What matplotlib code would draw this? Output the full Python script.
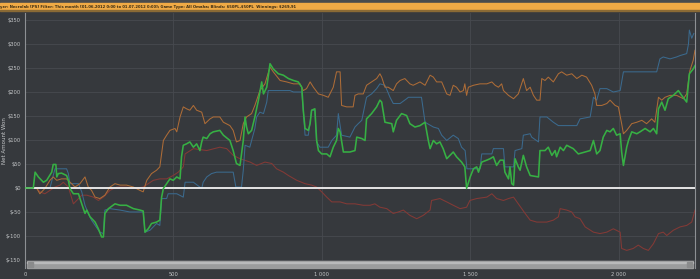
import matplotlib
matplotlib.use("Agg")
import matplotlib.pyplot as plt
from matplotlib.patches import Rectangle
from matplotlib.ticker import FuncFormatter

# valores (manos, dolares)
green_hands = [0, 28, 34, 45, 62, 73, 90, 95, 104, 107, 112, 123, 140, 146, 151, 163, 180, 191, 202, 208,
               219, 236, 247, 258, 264, 269, 281, 303, 320, 342, 365, 387, 398, 404, 415, 426, 443, 454,
               460, 466, 477, 488, 499, 511, 522, 527, 533, 544, 555, 567, 578, 589, 595, 600, 612, 623,
               634, 656, 668, 690, 701, 712, 724, 735, 741, 746, 752, 763, 774, 786, 797, 803, 814, 825,
               836, 853, 870, 887, 904, 920, 932, 937, 943, 954, 960, 965, 976, 982, 988, 999, 1016, 1027,
               1038, 1049, 1055, 1061, 1072, 1094, 1111, 1117, 1134, 1145, 1150, 1167, 1184, 1195, 1201,
               1212, 1235, 1240, 1251, 1268, 1285, 1296, 1313, 1330, 1347, 1358, 1364, 1375, 1386, 1397,
               1408, 1420, 1431, 1442, 1453, 1470, 1481, 1487, 1499, 1510, 1521, 1527, 1538, 1555, 1566,
               1577, 1588, 1600, 1611, 1616, 1628, 1633, 1639, 1645, 1650, 1661, 1667, 1678, 1689, 1701,
               1729, 1734, 1751, 1762, 1774, 1785, 1790, 1802, 1813, 1824, 1846, 1863, 1886, 1903, 1914,
               1925, 1936, 1947, 1959, 1970, 1981, 1992, 2004, 2009, 2015, 2026, 2032, 2043, 2060, 2071,
               2088, 2105, 2116, 2127, 2133, 2144, 2155, 2166, 2183, 2200, 2211, 2228, 2237, 2250, 2256]
green_won = [0, 0, 33, 23, 12, 16, 33, 49, 49, 23, 30, 31, 26, 16, -1, -12, -12, -33, -53, -46,
             -60, -71, -85, -102, -102, -53, -43, -33, -36, -36, -43, -46, -48, -92, -85, -74, -71, -67,
             -19, -1, 9, 19, 16, 23, 19, 65, 89, 92, 96, 85, 92, 78, 96, 106, 103, 113,
             117, 120, 110, 99, 78, 51, 47, 99, 148, 127, 113, 120, 148, 183, 221, 196, 210, 259,
             248, 238, 235, 228, 224, 221, 210, 162, 124, 120, 134, 162, 165, 99, 78, 71, 71, 65,
             85, 99, 124, 117, 75, 75, 78, 106, 103, 99, 144, 155, 169, 183, 179,
             137, 134, 117, 141, 155, 151, 134, 127, 130, 137, 99, 82, 99, 92, 96,
             82, 61, 68, 75, 65, 54, 44, -1, 23, 40, 44, 33, 54, 58, 61,
             65, 47, 58, 58, 33, 19, 44, 9, 6, 61, 44, 37, 68, 44, 26,
             23, 78, 78, 85, 68, 78, 65, 85, 78, 89, 82, 71, 75, 78, 99,
             71, 78, 106, 120, 117, 124, 110, 113, 75, 47, 85, 99, 117, 113, 117,
             124, 117, 124, 113, 165, 179, 162, 186, 193, 203, 193, 179, 238, 248, 255]

orange_hands = [0, 39, 50, 67, 84, 95, 107, 123, 140, 157, 168, 185, 202, 213, 224, 236, 252, 269, 286,
                303, 320, 342, 365, 387, 398, 410, 426, 443, 454, 466, 477, 488, 505, 511, 522, 533, 544,
                555, 567, 578, 595, 606, 623, 634, 656, 668, 690, 701, 712, 724, 735, 746, 763, 774, 791,
                808, 825, 836, 859, 881, 904, 926, 937, 948, 960, 971, 988, 1005, 1021, 1038, 1049, 1061,
                1066, 1083, 1105, 1111, 1122, 1139, 1150, 1167, 1184, 1195, 1201, 1212, 1223, 1240, 1251,
                1263, 1279, 1296, 1307, 1330, 1347, 1364, 1375, 1386, 1403, 1420, 1431, 1442, 1453, 1465,
                1476, 1481, 1487, 1493, 1510, 1532, 1555, 1572, 1583, 1594, 1605, 1611, 1628, 1645, 1661,
                1678, 1689, 1701, 1712, 1723, 1734, 1740, 1751, 1762, 1779, 1796, 1807, 1824, 1841, 1858,
                1875, 1891, 1908, 1919, 1925, 1942, 1959, 1970, 1987, 1998, 2009, 2015, 2026, 2043, 2060,
                2077, 2093, 2110, 2121, 2133, 2144, 2155, 2172, 2194, 2217, 2228, 2239, 2250, 2256]
orange_won = [0, 0, -12, -1, 16, 23, 16, 19, 19, 9, 2, 9, 23, 2, -5, -19, -22, -15, 2,
              9, 6, 6, 2, -5, -8, 16, 30, 37, 44, 99, 110, 120, 124, 117, 148, 169, 165,
              162, 172, 162, 158, 134, 144, 148, 148, 137, 130, 120, 96, 99, 134, 148, 155, 172, 203,
              217, 252, 242, 224, 221, 217, 217, 203, 207, 221, 210, 196, 193, 189, 210, 242, 242,
              172, 169, 169, 193, 196, 196, 214, 221, 228, 238, 231, 210, 210, 203, 217,
              224, 228, 217, 214, 221, 214, 235, 231, 221, 221, 196, 193, 214, 210, 200,
              203, 217, 193, 210, 214, 217, 217, 221, 214, 210, 217, 203, 193, 186, 196,
              228, 203, 210, 193, 183, 183, 228, 224, 231, 221, 238, 242, 235, 238, 228,
              235, 231, 214, 196, 172, 172, 176, 183, 172, 169, 134, 113, 120, 134, 137,
              141, 134, 144, 137, 189, 183, 189, 193, 193, 186, 196, 245, 266, 287]

blue_hands = [0, 84, 101, 140, 146, 151, 180, 191, 202, 213, 224, 236, 252, 264, 269, 286, 320, 353, 398,
              404, 421, 443, 454, 460, 477, 482, 511, 533, 539, 567, 595, 600, 612, 628, 645, 701, 710,
              729, 735, 741, 757, 763, 774, 780, 791, 803, 814, 819, 892, 904, 932, 937, 943, 954, 965,
              976, 982, 993, 1021, 1033, 1049, 1055, 1066, 1094, 1111, 1122, 1134, 1150, 1167, 1184,
              1195, 1212, 1229, 1240, 1263, 1285, 1291, 1335, 1347, 1375, 1392, 1403, 1420, 1442, 1459,
              1470, 1482, 1488, 1532, 1538, 1572, 1577, 1611, 1616, 1645, 1650, 1673, 1678, 1701, 1706,
              1729, 1734, 1757, 1779, 1796, 1858, 1869, 1903, 1914, 1925, 1936, 1959, 1981, 2004, 2015,
              2127, 2138, 2149, 2172, 2194, 2206, 2228, 2234, 2237, 2245, 2252]
blue_won = [0, 0, 40, 40, 30, 9, 9, -8, -36, -53, -67, -78, -92, -95, -46, -43, -46, -50, -50,
            -92, -88, -74, -78, -22, -22, -12, -12, -19, 12, 12, -1, 12, 23, 30, 33, 33, 2,
            2, 37, 89, 85, 99, 124, 148, 158, 155, 179, 203, 203, 200, 200, 162, 110, 110, 162,
            162, 96, 85, 85, 99, 110, 155, 110, 106, 127, 134, 141, 189, 196, 207,
            217, 214, 189, 176, 176, 186, 189, 189, 137, 127, 124, 110, 99, 110, 103,
            85, 78, 40, 40, 71, 71, 82, 82, 44, 44, 78, 82, 110, 113, 106,
            96, 148, 148, 137, 130, 130, 144, 148, 189, 183, 207, 207, 200, 203, 242,
            242, 269, 273, 269, 273, 276, 280, 300, 329, 312, 322]

red_hands = [0, 39, 50, 67, 84, 101, 118, 129, 146, 163, 174, 191, 208, 230, 247, 264, 286, 309, 342,
             370, 398, 415, 432, 454, 477, 499, 516, 533, 539, 567, 612, 656, 679, 701, 724, 758, 780,
             808, 831, 847, 870, 887, 915, 943, 965, 982, 999, 1016, 1033, 1061, 1083, 1111, 1139,
             1162, 1178, 1195, 1218, 1240, 1257, 1274, 1296, 1319, 1341, 1364, 1369, 1397, 1420, 1442,
             1465, 1487, 1498, 1521, 1555, 1572, 1588, 1611, 1628, 1645, 1661, 1684, 1701, 1723, 1757,
             1779, 1796, 1802, 1824, 1841, 1852, 1869, 1886, 1914, 1936, 1959, 1981, 2004, 2009, 2026,
             2048, 2065, 2082, 2099, 2116, 2133, 2149, 2161, 2183, 2206, 2228, 2245, 2256]
red_won = [0, 0, -8, -12, -5, 2, 6, 12, 2, -33, -26, -15, -15, -19, -26, -19, -5, 2, 2,
           -1, 2, 9, 16, 19, 19, 26, 33, 44, 71, 82, 78, 85, 82, 68, 61, 54, 47,
           54, 51, 40, 33, 26, 16, 9, 6, 2, -8, -19, -29, -29, -33, -33, -36,
           -36, -33, -40, -43, -53, -50, -46, -57, -64, -57, -46, -26, -22, -29, -36,
           -43, -40, -26, -22, -19, -12, -22, -26, -22, -19, -33, -53, -67, -71, -71,
           -67, -60, -43, -46, -50, -60, -64, -81, -92, -95, -92, -85, -92, -126, -130,
           -126, -119, -126, -130, -116, -95, -92, -99, -88, -81, -78, -71, -46]

y_ticks = [-150, -100, -50, 0, 50, 100, 150, 200, 250, 300, 350]
x_ticks = [0, 500, 1000, 1500, 2000]
header = ("yer: Necrolab [PS] Filter: This month [01.06.2012 0:00 to 01.07.2012 0:00]; "
          "Game Type: All Omaha; Blinds: $50PL,$50PL  Winnings: $269,91")

bg = '#36393d'
W, H = 700, 279

fig = plt.figure(figsize=(7, 2.79), dpi=100, facecolor=bg)

# barra naranja de arriba
fig.patches.append(Rectangle((0, 1 - 3 / H), 1, 3 / H, transform=fig.transFigure,
                             color='#4a4b4c', zorder=0))
fig.patches.append(Rectangle((0, 1 - 10 / H), 1, 7 / H, transform=fig.transFigure,
                             color='#f0aa45', zorder=0))
fig.patches.append(Rectangle((0, 1 - 11 / H), 1, 1 / H, transform=fig.transFigure,
                             color='#8a6a35', zorder=0))
fig.text(0.0, 1 - 6.6 / H, header, fontsize=2.7, fontweight='bold', color='#3b2c12',
         va='center', ha='left')

ax = fig.add_axes([25 / W, 1 - 268 / H, 670 / W, 255 / H])
ax.set_facecolor(bg)

ax.plot(red_hands, red_won, color='#843936', lw=0.75, zorder=3)
ax.plot(blue_hands, blue_won, color='#3b6a8e', lw=0.75, zorder=4)
ax.plot(orange_hands, orange_won, color='#ad6c37', lw=0.75, zorder=5)
ax.axhline(0, color='#f2f2f2', lw=1.3, zorder=6)
ax.plot(green_hands, green_won, color='#36b044', lw=1.15, zorder=7)

ax.set_xlim(0, 2256)
ax.set_ylim(-166.7, 364.6)
ax.set_yticks(y_ticks)
ax.set_xticks(x_ticks)
ax.yaxis.set_major_formatter(FuncFormatter(lambda v, p: '$%d' % v))
ax.xaxis.set_major_formatter(FuncFormatter(lambda v, p: '{:,}'.format(int(v)).replace(',', ' ')))
ax.tick_params(length=0, labelsize=3.7, colors='#c4c6c8', pad=3)
ax.grid(True, color='#474a4f', lw=0.6)
ax.set_axisbelow(True)
for side in ['top', 'bottom']:
    ax.spines[side].set_visible(False)
for side in ['left', 'right']:
    ax.spines[side].set_color('#8d9094')
    ax.spines[side].set_linewidth(0.8)
ax.set_ylabel('Net Amount Won', fontsize=4, color='#c4c6c8')
ax.yaxis.set_label_coords(-0.027, 0.5)

# barra de desplazamiento
fig.patches.append(Rectangle((27 / W, 1 - 268 / H), 666 / W, 7 / H, transform=fig.transFigure,
                             color='#9b9c9d', zorder=10))
fig.patches.append(Rectangle((27 / W, 1 - 263 / H), 666 / W, 1.5 / H, transform=fig.transFigure,
                             color='#b9babb', zorder=11))
fig.patches.append(Rectangle((28 / W, 1 - 267 / H), 5 / W, 5 / H, transform=fig.transFigure,
                             color='#8a8b8c', zorder=12))
fig.patches.append(Rectangle((687 / W, 1 - 267 / H), 5 / W, 5 / H, transform=fig.transFigure,
                             color='#8a8b8c', zorder=12))

fig.savefig('out.png', dpi=100, facecolor=bg)
